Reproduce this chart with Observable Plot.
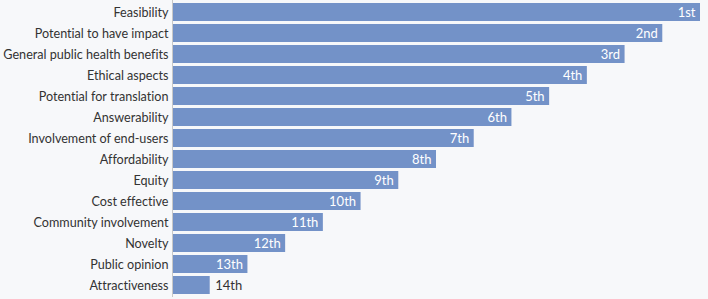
<!DOCTYPE html>
<html>
<head>
<meta charset="utf-8">
<script src="https://cdn.jsdelivr.net/npm/d3@7"></script>
<script src="https://cdn.jsdelivr.net/npm/@observablehq/plot@0.6"></script>
<style>
  html, body { margin: 0; padding: 0; background: #f7f8fa; }
  #chart svg { display: block; }
</style>
</head>
<body>
<div id="chart"></div>
<script>
const categories = [
  "Feasibility", "Potential to have impact", "General public health benefits",
  "Ethical aspects", "Potential for translation", "Answerability",
  "Involvement of end-users", "Affordability", "Equity", "Cost effective",
  "Community involvement", "Novelty", "Public opinion", "Attractiveness"
];
const scores = [14, 13, 12, 11, 10, 9, 8, 7, 6, 5, 4, 3, 2, 1];
const rankLabels = ["1st", "2nd", "3rd", "4th", "5th", "6th", "7th", "8th", "9th", "10th", "11th", "12th", "13th", "14th"];

const data = categories.map((c, i) => ({category: c, score: scores[i], rank: rankLabels[i]}));
const inside = data.filter(d => d.score > 1);
const outside = data.filter(d => d.score <= 1);

const chart = Plot.plot({
  width: 708,
  height: 299,
  marginLeft: 172,
  marginRight: 8,
  marginTop: 0,
  marginBottom: 2,
  style: {background: "#f7f8fa", fontFamily: "Lato, 'Source Sans Pro', sans-serif", fontSize: "12.6px", color: "#333", fontVariantLigatures: "none"},
  x: {domain: [0, 14], axis: null},
  y: {domain: categories, padding: 0.14, label: null, tickSize: 0, tickPadding: 4},
  marks: [
    Plot.barX(data, {x: "score", y: "category", fill: "#7392c8"}),
    Plot.text(inside, {x: "score", y: "category", text: "rank", textAnchor: "end", dx: -5, fill: "white", fontSize: 13}),
    Plot.text(outside, {x: "score", y: "category", text: "rank", textAnchor: "start", dx: 5, fill: "#333", fontSize: 13}),
    Plot.ruleX([0], {stroke: "#c8c8c8"})
  ]
});
document.getElementById("chart").appendChild(chart);
</script>
</body>
</html>
